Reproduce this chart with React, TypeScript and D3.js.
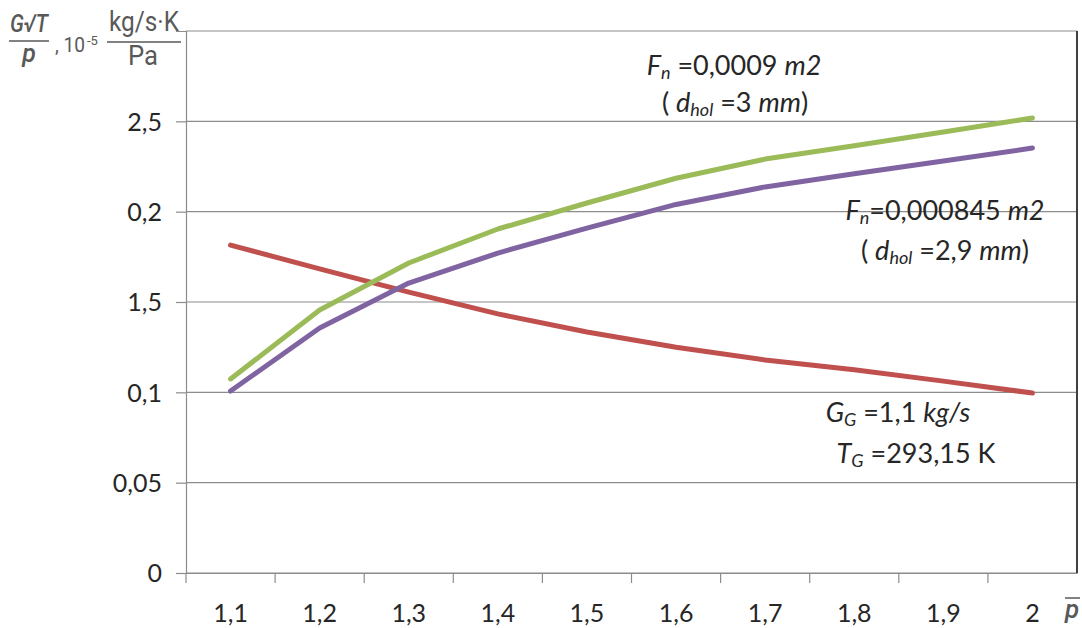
import { useEffect, useRef } from 'react'
import * as d3 from 'd3'

// pressure ratio categories (x)
const categories = ['1,1', '1,2', '1,3', '1,4', '1,5', '1,6', '1,7', '1,8', '1,9', '2']

// y ticks: value and the label printed on the original chart
const yTickValues = [0, 0.05, 0.1, 0.15, 0.2, 0.25]
const yTickLabels = ['0', '0,05', '0,1', '1,5', '0,2', '2,5']

// series
const seriesGreen = [0.1074, 0.1456, 0.1716, 0.1904, 0.2048, 0.2185, 0.2291, 0.2365, 0.2441, 0.2518]
const seriesPurple = [0.1007, 0.1356, 0.1605, 0.1771, 0.1909, 0.2040, 0.2137, 0.2210, 0.2280, 0.2352]
const seriesRed = [0.1815, 0.1683, 0.1555, 0.1434, 0.1334, 0.1250, 0.1179, 0.1125, 0.1062, 0.0996]

const FONT = 'Lato, "Open Sans", sans-serif'

const App = () => {
  const ref = useRef<SVGSVGElement | null>(null)

  useEffect(() => {
    const width = 1082, height = 628
    const left = 186, right = 1077, top = 31, bottom = 573

    const svg = d3.select(ref.current)
    svg.selectAll('*').remove()
    svg.attr('width', width).attr('height', height)

    const x = d3.scaleBand().domain(categories).range([left, right]).padding(0)
    const y = d3.scaleLinear().domain([0, 0.3]).range([bottom, top])
    const cx = (c: string) => (x(c) as number) + x.bandwidth() / 2

    // horizontal gridlines
    svg.append('g')
      .selectAll('line')
      .data(yTickValues.concat([0.3]))
      .enter()
      .append('line')
      .attr('x1', left).attr('x2', right)
      .attr('y1', d => y(d)).attr('y2', d => y(d))
      .attr('stroke', '#8c8c8c').attr('stroke-width', 1.2)

    // right border
    svg.append('line')
      .attr('x1', right).attr('x2', right).attr('y1', top).attr('y2', bottom)
      .attr('stroke', '#404040').attr('stroke-width', 2)

    // left axis
    const yAxis = svg.append('g').attr('transform', `translate(${left},0)`)
      .call(d3.axisLeft(y).tickValues(yTickValues).tickSize(10)
        .tickFormat((_d, i) => yTickLabels[i]))
    yAxis.select('.domain').attr('stroke', '#8c8c8c').attr('stroke-width', 1.2)
    yAxis.selectAll('.tick line').attr('stroke', '#8c8c8c').attr('stroke-width', 1.2)
    yAxis.selectAll('.tick text')
      .attr('x', -24).attr('dy', '0.35em')
      .attr('fill', '#262626').style('font-family', FONT).style('font-size', '25px')

    // bottom axis
    const xAxis = svg.append('g').attr('transform', `translate(0,${bottom})`)
      .call(d3.axisBottom(x).tickSize(0).tickPadding(0))
    xAxis.select('.domain').attr('stroke', '#8c8c8c').attr('stroke-width', 1.2)
    xAxis.selectAll('.tick text')
      .attr('y', 49).attr('dy', 0)
      .attr('fill', '#262626').style('font-family', FONT).style('font-size', '25px')
    // tick marks on band boundaries
    svg.append('g')
      .selectAll('line')
      .data(categories)
      .enter()
      .append('line')
      .attr('x1', d => x(d) as number).attr('x2', d => x(d) as number)
      .attr('y1', bottom).attr('y2', bottom + 10)
      .attr('stroke', '#8c8c8c').attr('stroke-width', 1.2)

    // lines
    const line = d3.line<number>()
      .x((_d, i) => cx(categories[i]))
      .y(d => y(d))
    const series = [
      { values: seriesRed, color: '#C0504D' },
      { values: seriesPurple, color: '#8064A2' },
      { values: seriesGreen, color: '#9BBB59' },
    ]
    svg.append('g')
      .selectAll('path')
      .data(series)
      .enter()
      .append('path')
      .attr('d', d => line(d.values))
      .attr('fill', 'none')
      .attr('stroke', d => d.color)
      .attr('stroke-width', 5)
      .attr('stroke-linecap', 'round')
      .attr('stroke-linejoin', 'round')

    // annotations
    const note = (tx: number, ty: number, parts: [string, string][]) => {
      const t = svg.append('text')
        .attr('x', tx).attr('y', ty)
        .attr('text-anchor', 'middle')
        .attr('fill', '#262626')
        .style('font-family', FONT).style('font-size', '27px')
      parts.forEach(([txt, kind]) => {
        const s = t.append('tspan').text(txt)
        if (kind === 'i') s.style('font-style', 'italic')
        if (kind === 'sub') s.style('font-style', 'italic').style('font-size', '18px').attr('dy', 4)
        if (kind === 'after') s.attr('dy', -4)
      })
    }
    note(734, 75, [['F', 'i'], ['n', 'sub'], [' =0,0009 ', 'after'], ['m2', 'i']])
    note(735, 112, [['( ', ''], ['d', 'i'], ['hol', 'sub'], [' =3 ', 'after'], ['mm', 'i'], [')', '']])
    note(945, 220, [['F', 'i'], ['n', 'sub'], ['=0,000845 ', 'after'], ['m2', 'i']])
    note(945, 260, [['( ', ''], ['d', 'i'], ['hol', 'sub'], [' =2,9 ', 'after'], ['mm', 'i'], [')', '']])
    note(898, 422, [['G', 'i'], ['G', 'sub'], [' =1,1 ', 'after'], ['kg/s', 'i']])
    note(916, 463, [['T', 'i'], ['G', 'sub'], [' =293,15 K', 'after']])

    // y-axis title
    const title = svg.append('g')
      .attr('fill', '#595959')
      .style('font-family', 'Roboto, sans-serif')
    title.append('text').attr('x', 29).attr('y', 32).attr('text-anchor', 'middle')
      .style('font-size', '25px').style('font-style', 'italic').style('font-weight', '500')
      .attr('textLength', 38).attr('lengthAdjust', 'spacingAndGlyphs').text('G√T')
    title.append('line').attr('x1', 9).attr('x2', 49).attr('y1', 41).attr('y2', 41)
      .attr('stroke', '#595959').attr('stroke-width', 1.5)
    title.append('text').attr('x', 29).attr('y', 62).attr('text-anchor', 'middle')
      .style('font-size', '25px').style('font-style', 'italic').style('font-weight', '500').text('p')
    const ten = title.append('text').attr('x', 55).attr('y', 52).style('font-size', '20px')
      .attr('textLength', 30).attr('lengthAdjust', 'spacingAndGlyphs')
    ten.append('tspan').text(', 10')
    title.append('text').attr('x', 87).attr('y', 45).style('font-size', '13px').text('-5')
    title.append('text').attr('x', 144).attr('y', 31).attr('text-anchor', 'middle')
      .style('font-size', '27px').attr('textLength', 70).attr('lengthAdjust', 'spacingAndGlyphs')
      .text('kg/s·K')
    title.append('line').attr('x1', 107).attr('x2', 181).attr('y1', 42).attr('y2', 42)
      .attr('stroke', '#595959').attr('stroke-width', 1.5)
    title.append('text').attr('x', 143).attr('y', 65).attr('text-anchor', 'middle')
      .style('font-size', '27px').attr('textLength', 30).attr('lengthAdjust', 'spacingAndGlyphs')
      .text('Pa')

    // x-axis title: p with overline
    svg.append('text').attr('x', 1072).attr('y', 618).attr('text-anchor', 'middle')
      .attr('fill', '#595959').style('font-family', 'Roboto, sans-serif')
      .style('font-size', '26px').style('font-style', 'italic').style('font-weight', '500')
      .text('p')
    svg.append('line').attr('x1', 1065).attr('x2', 1080).attr('y1', 598).attr('y2', 598)
      .attr('stroke', '#595959').attr('stroke-width', 1.5)
  }, [])

  return (
    <svg ref={ref} style={{ position: 'absolute', left: 0, top: 0, background: '#fff' }} />
  )
}

export default App
